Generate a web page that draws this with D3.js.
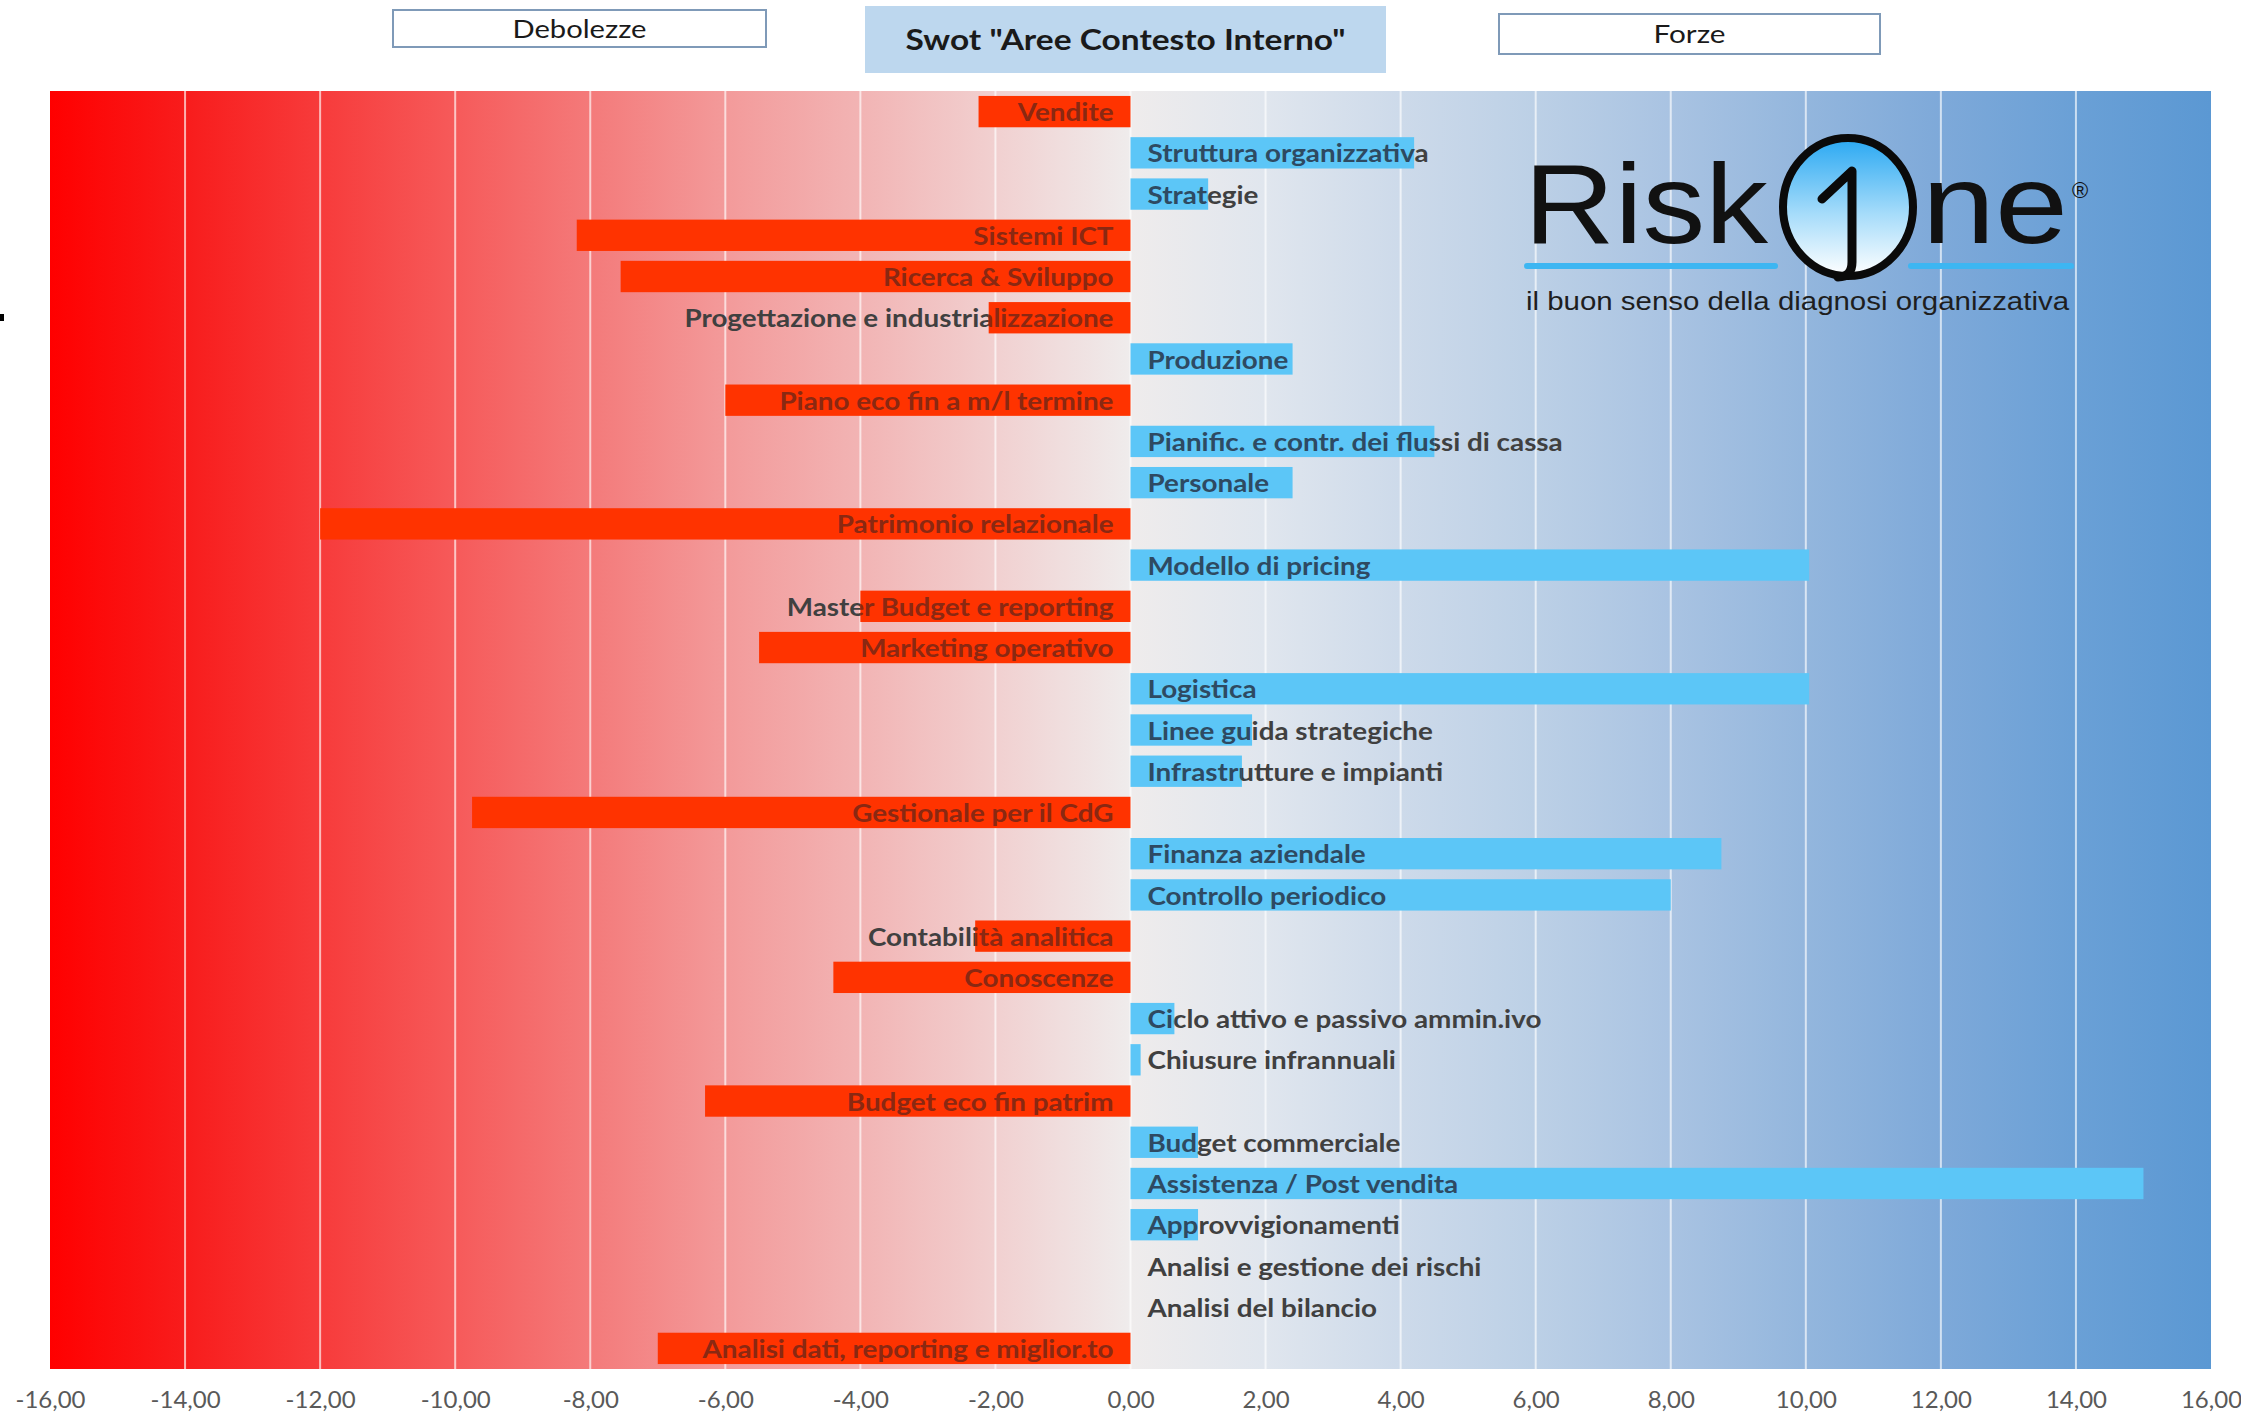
<!DOCTYPE html>
<meta charset="utf-8">
<style>
  body { margin: 0; background: #fff; }
</style>
<script src="https://d3js.org/d3.v7.min.js"></script>
<div id="swot"></div>
<script>

// aree di contesto interno, dall'alto verso il basso
var aree = [
  "Vendite", "Struttura organizzativa", "Strategie", "Sistemi ICT",
  "Ricerca & Sviluppo", "Progettazione e industrializzazione", "Produzione",
  "Piano eco fin a m/l termine", "Pianific. e contr. dei flussi di cassa",
  "Personale", "Patrimonio relazionale", "Modello di pricing",
  "Master Budget e reporting", "Marketing operativo", "Logistica",
  "Linee guida strategiche", "Infrastrutture e impianti", "Gestionale per il CdG",
  "Finanza aziendale", "Controllo periodico", "Contabilità analitica",
  "Conoscenze", "Ciclo attivo e passivo ammin.ivo", "Chiusure infrannuali",
  "Budget eco fin patrim", "Budget commerciale", "Assistenza / Post vendita",
  "Approvvigionamenti", "Analisi e gestione dei rischi", "Analisi del bilancio",
  "Analisi dati, reporting e miglior.to"
];

// punteggi: negativi = debolezze, positivi = forze
var punteggi = [
  -2.25, 4.2, 1.15, -8.2,
  -7.55, -2.1, 2.4,
  -6.0, 4.5,
  2.4, -12.0, 10.05,
  -4.0, -5.5, 10.05,
  1.8, 1.65, -9.75,
  8.75, 8.0, -2.3,
  -4.4, 0.65, 0.15,
  -6.3, 1.0, 15.0,
  1.0, 0, 0,
  -7.0
];

var valoriAsse = [-16, -14, -12, -10, -8, -6, -4, -2, 0, 2, 4, 6, 8, 10, 12, 14, 16];

var W = 2241, H = 1413;
var plot = {left: 50, right: 2211, top: 91, bottom: 1369};

var svg = d3.select("#swot").append("svg")
  .attr("width", W)
  .attr("height", H)
  .style("display", "block");

var defs = svg.append("defs");

// sfondo rosso -> grigio chiaro -> blu
var sfondo = defs.append("linearGradient").attr("id", "sfondo")
  .attr("x1", "0%").attr("x2", "100%").attr("y1", "0%").attr("y2", "0%");
[[0, "#ff0000"], [0.0625, "#f81c1c"], [0.125, "#f73b3b"], [0.1875, "#f65a5a"],
 [0.25, "#f47a7a"], [0.3125, "#f39a9a"], [0.375, "#f2b4b4"], [0.4375, "#f1d0d0"],
 [0.5, "#efecec"], [0.5625, "#e0e6ee"], [0.625, "#cddaea"], [0.6875, "#bcd0e6"],
 [0.75, "#a9c3e2"], [0.8125, "#93b6dd"], [0.875, "#7ea9d9"], [0.9375, "#6aa0d6"],
 [1, "#5b98d3"]].forEach(function(s) {
  sfondo.append("stop").attr("offset", s[0]).attr("stop-color", s[1]);
});

var x = d3.scaleLinear()
  .domain([-16, 16])
  .range([plot.left, plot.right]);

var y = d3.scaleBand()
  .domain(aree)
  .range([plot.top, plot.bottom])
  .paddingInner(0.24)
  .paddingOuter(0.12);

var righe = aree.map(function(a, i) { return {area: a, v: punteggi[i], i: i}; });

// area del grafico
svg.append("rect")
  .attr("x", plot.left).attr("y", plot.top)
  .attr("width", plot.right - plot.left)
  .attr("height", plot.bottom - plot.top)
  .attr("fill", "url(#sfondo)");

// griglia verticale
svg.append("g").selectAll("line")
  .data(valoriAsse.slice(1, -1))
  .enter().append("line")
    .attr("x1", function(d) { return x(d); })
    .attr("x2", function(d) { return x(d); })
    .attr("y1", plot.top)
    .attr("y2", plot.bottom)
    .attr("stroke", "#ffffff")
    .attr("stroke-opacity", 0.65)
    .attr("stroke-width", 2);

// asse x con virgola decimale
var it = d3.formatLocale({decimal: ",", thousands: ".", grouping: [3], currency: ["", " €"], minus: "-"});
var xAxis = svg.append("g")
  .attr("transform", "translate(0," + plot.bottom + ")")
  .call(d3.axisBottom(x).tickValues(valoriAsse).tickFormat(it.format(".2f")).tickSize(0).tickPadding(22));
xAxis.select(".domain").remove();
xAxis.selectAll("text")
  .attr("font-family", "Lato, 'Open Sans', sans-serif")
  .attr("font-size", 24)
  .attr("fill", "#595959");

// etichette in grigio (sotto le barre)
function posEtichetta(d) {
  var px = d.v < 0 ? x(0) - 17 : x(0) + 17;
  return "translate(" + px + "," + (y(d.area) + y.bandwidth() / 2) + ") scale(1.16,1)";
}

function etichetta(sel, colore) {
  sel.append("text")
    .attr("transform", posEtichetta)
    .attr("dy", "0.4em")
    .attr("text-anchor", function(d) { return d.v < 0 ? "end" : "start"; })
    .attr("font-family", "Lato, 'Open Sans', sans-serif")
    .attr("font-weight", "bold")
    .attr("font-size", 24)
    .attr("fill", colore)
    .text(function(d) { return d.area; });
}

etichetta(svg.append("g").selectAll("g").data(righe).enter().append("g"), "#404040");

// barre
var conBarra = righe.filter(function(d) { return d.v !== 0; });

function barraX(d) { return x(Math.min(0, d.v)); }
function barraW(d) { return Math.abs(x(d.v) - x(0)); }

svg.append("g").selectAll("rect")
  .data(conBarra)
  .enter().append("rect")
    .attr("x", barraX)
    .attr("y", function(d) { return y(d.area); })
    .attr("width", barraW)
    .attr("height", y.bandwidth())
    .attr("fill", function(d) { return d.v < 0 ? "#ff3300" : "#5cc6f7"; });

// parte delle etichette che cade sulla barra, piu' scura
defs.selectAll("clipPath.barra")
  .data(conBarra)
  .enter().append("clipPath")
    .attr("class", "barra")
    .attr("id", function(d) { return "clip-" + d.i; })
  .append("rect")
    .attr("x", barraX)
    .attr("y", function(d) { return y(d.area); })
    .attr("width", barraW)
    .attr("height", y.bandwidth());

var sopra = svg.append("g").selectAll("g")
  .data(conBarra)
  .enter().append("g")
    .attr("clip-path", function(d) { return "url(#clip-" + d.i + ")"; });
sopra.each(function(d) {
  etichetta(d3.select(this).datum(d), d.v < 0 ? "#8a2812" : "#2e4a62");
});

// intestazioni
function riquadro(x0, y0, w, h, testo, opz) {
  svg.append("rect")
    .attr("x", x0).attr("y", y0).attr("width", w).attr("height", h)
    .attr("fill", opz.fill || "#ffffff")
    .attr("stroke", opz.stroke || "none")
    .attr("stroke-width", 2);
  svg.append("text")
    .attr("x", x0 + w / 2).attr("y", y0 + h / 2)
    .attr("dy", "0.36em")
    .attr("text-anchor", "middle")
    .attr("font-family", "Lato, 'Open Sans', sans-serif")
    .attr("font-weight", opz.bold ? "bold" : "normal")
    .attr("font-size", opz.size)
    .attr("textLength", opz.len)
    .attr("lengthAdjust", "spacingAndGlyphs")
    .attr("fill", "#1a1a1a")
    .text(testo);
}
riquadro(393, 10, 373, 37, "Debolezze", {stroke: "#7f9ab8", size: 25, len: 134});
riquadro(865, 6, 521, 67, "Swot \"Aree Contesto Interno\"", {fill: "#bdd7ee", bold: true, size: 28, len: 440});
riquadro(1499, 14, 381, 40, "Forze", {stroke: "#7f9ab8", size: 25, len: 72});

// logo RiskOne
var logo = svg.append("g");
var ovale = defs.append("linearGradient").attr("id", "ovale")
  .attr("x1", "0").attr("x2", "0").attr("y1", "0").attr("y2", "1");
ovale.append("stop").attr("offset", 0).attr("stop-color", "#29a8f2");
ovale.append("stop").attr("offset", 0.55).attr("stop-color", "#a6dcfa");
ovale.append("stop").attr("offset", 1).attr("stop-color", "#ffffff");

logo.append("text")
  .attr("x", 1524).attr("y", 243)
  .attr("font-family", "'Liberation Sans', Arial, sans-serif")
  .attr("font-size", 114)
  .attr("textLength", 244).attr("lengthAdjust", "spacingAndGlyphs")
  .attr("fill", "#111")
  .text("Risk");
logo.append("ellipse")
  .attr("cx", 1848).attr("cy", 207).attr("rx", 65).attr("ry", 69)
  .attr("fill", "url(#ovale)")
  .attr("stroke", "#0a0a0a").attr("stroke-width", 8);
logo.append("path")
  .attr("d", "M1822,199 L1852,171 L1852,262 Q1852,277 1838,277")
  .attr("fill", "none").attr("stroke", "#0a0a0a").attr("stroke-width", 9)
  .attr("stroke-linejoin", "round").attr("stroke-linecap", "round");
logo.append("text")
  .attr("x", 1922).attr("y", 243)
  .attr("font-family", "'Liberation Sans', Arial, sans-serif")
  .attr("font-size", 114)
  .attr("textLength", 146).attr("lengthAdjust", "spacingAndGlyphs")
  .attr("fill", "#111")
  .text("ne");
logo.append("text")
  .attr("x", 2072).attr("y", 198)
  .attr("font-family", "'Liberation Sans', Arial, sans-serif")
  .attr("font-size", 22)
  .attr("fill", "#111")
  .text("®");
logo.append("rect").attr("x", 1524).attr("y", 263).attr("width", 254).attr("height", 6).attr("rx", 3).attr("fill", "#3db6f2");
logo.append("rect").attr("x", 1908).attr("y", 263).attr("width", 166).attr("height", 6).attr("rx", 3).attr("fill", "#3db6f2");
logo.append("text")
  .attr("x", 1526).attr("y", 310)
  .attr("font-family", "'Liberation Sans', Arial, sans-serif")
  .attr("font-size", 26)
  .attr("textLength", 543).attr("lengthAdjust", "spacingAndGlyphs")
  .attr("fill", "#1e1e1e")
  .text("il buon senso della diagnosi organizzativa");

// puntino nero al margine sinistro
svg.append("rect").attr("x", 0).attr("y", 314).attr("width", 4).attr("height", 7).attr("fill", "#000");

</script>
